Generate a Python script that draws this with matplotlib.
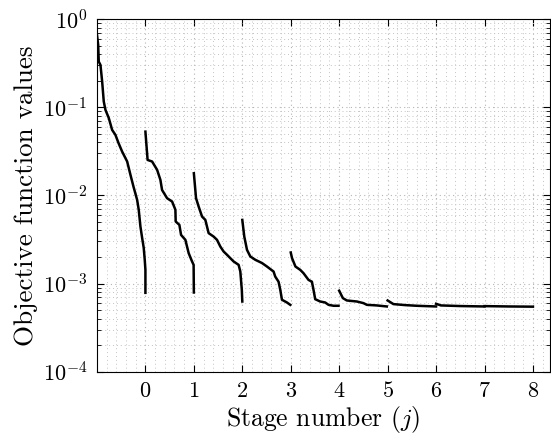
import matplotlib
matplotlib.use("Agg")
import matplotlib.pyplot as plt
from matplotlib.ticker import FixedLocator, LogLocator, MultipleLocator, NullFormatter

plt.rcParams['font.family'] = 'serif'
plt.rcParams['font.serif'] = ['cmr10']
plt.rcParams['mathtext.fontset'] = 'cm'
plt.rcParams['axes.formatter.use_mathtext'] = True

# objective values per stage (x = stage position)
stage_m1_x = [-1.0, -0.975, -0.963, -0.928, -0.893, -0.86, -0.825, -0.757, -0.687, -0.619, -0.557,
              -0.48, -0.377, -0.309, -0.247, -0.171, -0.138, -0.103, -0.068, -0.035, -0.014, 0.0, 0.0]
stage_m1_f = [0.66, 0.507, 0.328, 0.301, 0.195, 0.116, 0.0931, 0.0755, 0.0552, 0.0485, 0.0394,
              0.0313, 0.0242, 0.0171, 0.0126, 0.00889, 0.00686, 0.00443, 0.0033, 0.00254, 0.00186, 0.00143, 0.000785]

stage_0_x = [0.0, 0.045, 0.138, 0.241, 0.309, 0.344, 0.447, 0.551, 0.619, 0.625, 0.701,
             0.736, 0.825, 0.893, 0.963, 0.995, 1.0]
stage_0_f = [0.0528, 0.0252, 0.0242, 0.0195, 0.015, 0.0115, 0.00929, 0.00851, 0.00686, 0.00505, 0.00463,
             0.00356, 0.00313, 0.00221, 0.00178, 0.00163, 0.000792]

stage_1_x = [1.0, 1.045, 1.099, 1.169, 1.237, 1.305, 1.408, 1.478, 1.546, 1.614, 1.684,
             1.753, 1.821, 1.924, 1.959, 1.99, 2.0]
stage_1_f = [0.0178, 0.00929, 0.00746, 0.00575, 0.00527, 0.00373, 0.00341, 0.00313, 0.00263, 0.00231, 0.00212,
             0.00194, 0.00178, 0.00163, 0.00137, 0.00085, 0.000626]

stage_2_x = [2.0, 2.041, 2.097, 2.165, 2.268, 2.406, 2.509, 2.645, 2.68, 2.748, 2.784, 2.819, 2.922, 2.99]
stage_2_f = [0.00527, 0.00341, 0.00241, 0.00203, 0.00186, 0.00171, 0.00156, 0.00137, 0.0012, 0.00105,
             0.00085, 0.000655, 0.00061, 0.000574]

stage_3_x = [3.0, 3.027, 3.097, 3.196, 3.264, 3.367, 3.437, 3.47, 3.505, 3.608, 3.711, 3.78, 3.883, 3.986]
stage_3_f = [0.00225, 0.00194, 0.00156, 0.00143, 0.00131, 0.0011, 0.00105, 0.00085, 0.000665, 0.000626,
             0.00061, 0.000574, 0.00056, 0.00056]

stage_4_x = [4.0, 4.076, 4.158, 4.365, 4.501, 4.571, 4.777, 4.983]
stage_4_f = [0.00083, 0.000684, 0.000643, 0.000626, 0.0006, 0.000574, 0.000565, 0.00055]

stage_5_x = [5.0, 5.12, 5.36, 5.6, 6.0]
stage_5_f = [0.000643, 0.000585, 0.00057, 0.00056, 0.00055]

stage_6_x = [6.0, 6.1, 6.5, 7.0]
stage_6_f = [0.00059, 0.000565, 0.000556, 0.00055]

stage_7_x = [7.0, 7.5, 8.0]
stage_7_f = [0.000555, 0.00055, 0.000547]

stages = [(stage_m1_x, stage_m1_f), (stage_0_x, stage_0_f), (stage_1_x, stage_1_f),
          (stage_2_x, stage_2_f), (stage_3_x, stage_3_f), (stage_4_x, stage_4_f),
          (stage_5_x, stage_5_f), (stage_6_x, stage_6_f), (stage_7_x, stage_7_f)]

xticks = [0, 1, 2, 3, 4, 5, 6, 7, 8]

fig = plt.figure(figsize=(5.51, 4.41), dpi=100)
ax = fig.add_axes([0.176, 0.157, 0.822, 0.800])

for xs, fs in stages:
    ax.plot(xs, fs, color='black', linewidth=1.8)

ax.set_yscale('log')
ax.set_ylim(1e-4, 1e0)
ax.set_xlim(-1.0, 8.35)
ax.xaxis.set_major_locator(FixedLocator(xticks))
ax.xaxis.set_minor_locator(MultipleLocator(0.2))
ax.yaxis.set_minor_locator(LogLocator(base=10, subs=range(2, 10)))
ax.yaxis.set_minor_formatter(NullFormatter())

dots = (0, (1, 3))
ax.grid(True, which='major', linestyle=dots, color='#b4b4b4', linewidth=0.8)
ax.grid(True, which='minor', linestyle=dots, color='#c4c4c4', linewidth=0.7)

ax.tick_params(which='both', direction='in', top=True, right=True, labelsize=16)
ax.tick_params(which='major', length=5, width=0.8, pad=7)
ax.tick_params(which='minor', length=3, width=0.6)
ax.tick_params(axis='x', which='minor', length=0)

ax.set_xlabel('Stage number ($j$)', fontsize=18.5, labelpad=2)
ax.set_ylabel('Objective function values', fontsize=19.5, labelpad=3)

fig.savefig('out.png', dpi=100)
